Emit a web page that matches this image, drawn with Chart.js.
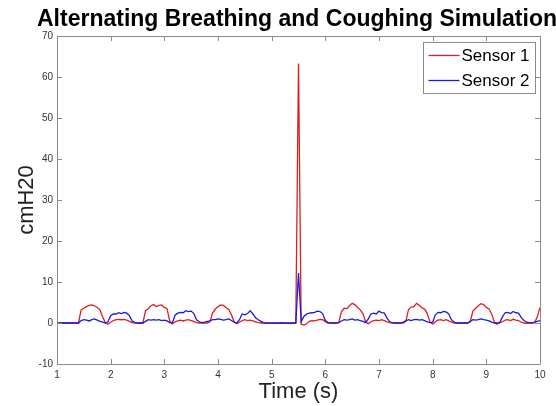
<!DOCTYPE html>
<html>
<head>
<meta charset="utf-8">
<script src="https://cdn.jsdelivr.net/npm/chart.js@4.4.0/dist/chart.umd.min.js"></script>
<style>
  html, body { margin: 0; padding: 0; background: #fff; }
</style>
</head>
<body>
<canvas id="chart" width="556" height="406"></canvas>
<script>
// sampled every 0.05 s from t = 1 s
const seriesNames = ['Sensor 1', 'Sensor 2'];
const startTime = 1;
const sampleStep = 0.05;

const sensor1 = [
  0, 0, 0, 0, 0, 0, 0, 0, 0, 3.2,            // 1.00
  3.6, 4.0, 4.3, 4.4, 4.2, 3.8, 3.2, 1.5, 0.1, -0.3,
  0.2, 0.6, 0.8, 0.9, 0.8, 0.9, 0.7, 0.4, 0.1, 0,   // 2.00
  0, 0, 0, 3.0, 3.5, 4.2, 4.5, 4.0, 4.3, 4.4,
  3.8, 3.5, 0.5, -0.2, 0.3, 0.5, 0.7, 0.5, 0.7, 0.8, // 3.00
  0.6, 0.4, 0.1, 0, 0, 0, 0, 0.3, 2.5, 3.4,
  4.0, 4.4, 4.3, 3.8, 3.3, 2.0, 0.3, -0.2, 0.2, 0.6, // 4.00
  0.8, 0.6, 0.7, 0.5, 0.3, 0.1, 0, 0, -0.1, -0.1,
  -0.1, -0.1, -0.1, 0, 0, -0.1, -0.1, -0.1, 0, 0,   // 5.00
  63.3, -0.3, -0.5, -0.2, 0.4, 0.6, 0.5, 0.7, 0.9, 0.8,
  0.3, 0, 0, 0, 0, 0.1, 2.8, 3.6, 3.5, 4.2,         // 6.00
  4.8, 4.5, 3.8, 3.2, 2.3, 0.3, -0.2, 0.3, 0.6, 0.7,
  0.6, 0.8, 0.6, 0.3, 0.1, 0, 0, 0, 0, 0,           // 7.00
  0.4, 3.3, 3.9, 4.0, 4.8, 4.3, 3.7, 3.4, 2.3, 0.2,
  -0.3, 0.3, 0.7, 0.8, 0.6, 0.8, 0.5, 0.2, 0, 0,    // 8.00
  0, 0, 0, 0, 0.3, 2.9, 3.6, 4.2, 4.7, 4.5,
  3.8, 3.4, 2.2, 0.2, -0.3, 0.1, 0.3, 0.7, 0.8, 0.6, // 9.00
  0.9, 0.7, 0.6, 0.2, 0, -0.1, 0, 0, 0.1, 1.5,
  3.8                                                // 10.00
];

const sensor2 = [
  0, 0, 0, 0, 0, 0, 0, 0, 0, 0.6,            // 1.00
  0.8, 0.7, 0.5, 0.8, 1.0, 0.7, 0.4, 0.2, 0, 0.3,
  1.8, 2.2, 2.2, 2.5, 2.3, 2.6, 2.4, 1.8, 0.5, 0.1, // 2.00
  0, 0, 0, 0.4, 0.8, 0.7, 0.8, 0.7, 0.8, 0.6,
  0.7, 0.5, 0.1, 0, 1.9, 2.4, 2.6, 2.5, 3.0, 2.8,   // 3.00
  2.9, 2.3, 0.8, 0.3, 0.1, 0.2, 0.4, 0.5, 0.8, 0.8,
  1.0, 0.9, 0.7, 0.8, 1.0, 0.6, 0.2, 0, 0.8, 2.2,   // 4.00
  2.0, 2.3, 3.0, 2.2, 1.3, 0.8, 0.4, 0.1, 0, 0,
  0, 0, 0, 0, 0, 0, 0, 0, 0, 0,                     // 5.00
  12.2, 0.3, 1.6, 2.2, 2.4, 2.5, 2.6, 2.9, 2.8, 2.3,
  0.6, 0.1, 0, 0, 0, 0.1, 0.5, 0.8, 0.7, 0.8,       // 6.00
  1.0, 0.7, 0.8, 0.6, 0.4, 0.1, 1.0, 2.2, 2.4, 2.2,
  2.9, 2.5, 2.4, 1.2, 0.3, 0.1, 0, 0, 0, 0.2,       // 7.00
  0.5, 0.8, 0.6, 0.8, 0.9, 0.7, 0.8, 0.6, 0.3, 0.1,
  0.2, 2.0, 2.6, 2.5, 2.8, 2.7, 2.2, 0.8, 0.2, 0,   // 8.00
  0, 0, 0, 0, 0.4, 0.8, 0.7, 0.8, 1.0, 0.8,
  0.7, 0.5, 0.2, 0, 0, 0.1, 1.5, 2.5, 2.6, 2.3,     // 9.00
  2.8, 2.5, 2.4, 1.3, 0.6, 0.2, 0.1, 0, 0.2, 0.4,
  0.6                                                // 10.00
];

const xRange = [1, 10];
const yRange = [-10, 70];

function toPoints(values) {
  return values.map((v, i) => ({ x: +(startTime + i * sampleStep).toFixed(2), y: v }));
}

const FONT = '"Liberation Sans", Arial, Helvetica, sans-serif';
const AXIS_GRAY = '#8a8a8a';

// MATLAB style box, inward ticks and legend
const matlabAxes = {
  id: 'matlabAxes',
  afterLayout(chart) {
    // title is wider than the axes, let it overhang to the left like the original
    const t = chart.titleBlock;
    if (t) { t.left = 37; t.right = 557; t.width = 520; }
  },
  afterDatasetsDraw(chart) {
    const { ctx, chartArea: a, scales: { x, y } } = chart;
    const tick = 5;
    ctx.save();
    ctx.strokeStyle = AXIS_GRAY;
    ctx.lineWidth = 1;
    ctx.beginPath();
    ctx.rect(Math.round(a.left) + 0.5, Math.round(a.top) + 0.5,
      Math.round(a.right - a.left), Math.round(a.bottom - a.top));
    x.ticks.forEach(t => {
      const px = Math.round(x.getPixelForValue(t.value)) + 0.5;
      ctx.moveTo(px, a.bottom); ctx.lineTo(px, a.bottom - tick);
      ctx.moveTo(px, a.top); ctx.lineTo(px, a.top + tick);
    });
    y.ticks.forEach(t => {
      const py = Math.round(y.getPixelForValue(t.value)) + 0.5;
      ctx.moveTo(a.left, py); ctx.lineTo(a.left + tick, py);
      ctx.moveTo(a.right, py); ctx.lineTo(a.right - tick, py);
    });
    ctx.stroke();
    ctx.restore();
  },
  afterDraw(chart) {
    const { ctx, chartArea: a } = chart;
    const boxW = 112, boxH = 51;
    const bx = Math.round(a.right - 5 - boxW) + 0.5;
    const by = Math.round(a.top + 6) + 0.5;
    ctx.save();
    ctx.fillStyle = '#fff';
    ctx.fillRect(bx, by, boxW, boxH);
    ctx.strokeStyle = AXIS_GRAY;
    ctx.lineWidth = 1;
    ctx.strokeRect(bx, by, boxW, boxH);
    ctx.font = '17px ' + FONT;
    ctx.textBaseline = 'middle';
    ctx.textAlign = 'left';
    chart.data.datasets.forEach((ds, i) => {
      const ly = by + 13 + i * 25;
      ctx.strokeStyle = ds.borderColor;
      ctx.lineWidth = 1.3;
      ctx.beginPath();
      ctx.moveTo(bx + 5, ly);
      ctx.lineTo(bx + 36, ly);
      ctx.stroke();
      ctx.fillStyle = '#000';
      ctx.fillText(ds.label, bx + 38, ly + 1);
    });
    ctx.restore();
  }
};

new Chart(document.getElementById('chart'), {
  type: 'line',
  data: {
    datasets: [
      {
        label: seriesNames[0],
        data: toPoints(sensor1),
        borderColor: 'rgb(225,30,30)',
        borderWidth: 1.3,
        pointRadius: 0,
        tension: 0,
        order: 1
      },
      {
        label: seriesNames[1],
        data: toPoints(sensor2),
        borderColor: 'rgb(25,25,225)',
        borderWidth: 1.3,
        pointRadius: 0,
        tension: 0,
        order: 0
      }
    ]
  },
  options: {
    responsive: false,
    animation: false,
    events: [],
    layout: { padding: { left: 0, right: 16, top: 0, bottom: 0 } },
    scales: {
      x: {
        type: 'linear',
        min: xRange[0],
        max: xRange[1],
        grid: { display: false, drawTicks: false },
        border: { display: false },
        ticks: { stepSize: 1, padding: 5, color: '#333', font: { family: FONT, size: 10 } },
        title: {
          display: true,
          text: 'Time (s)',
          color: '#222',
          font: { family: FONT, size: 22 },
          padding: { top: 0, bottom: 1 }
        },
        afterFit(scale) { scale.height = 42; }
      },
      y: {
        min: yRange[0],
        max: yRange[1],
        grid: { display: false, drawTicks: false },
        border: { display: false },
        ticks: { stepSize: 10, padding: 4, color: '#333', font: { family: FONT, size: 10 } },
        title: {
          display: true,
          text: 'cmH20',
          color: '#222',
          font: { family: FONT, size: 22 },
          padding: { top: 14, bottom: 0 }
        },
        afterFit(scale) { scale.width = 57; }
      }
    },
    plugins: {
      legend: { display: false },
      tooltip: { enabled: false },
      title: {
        display: true,
        text: 'Alternating Breathing and Coughing Simulation',
        fullSize: false,
        color: '#000',
        font: { family: FONT, size: 23, weight: 'bold' },
        padding: { top: 5.5, bottom: 2.9 }
      }
    }
  },
  plugins: [matlabAxes]
});
</script>
</body>
</html>
